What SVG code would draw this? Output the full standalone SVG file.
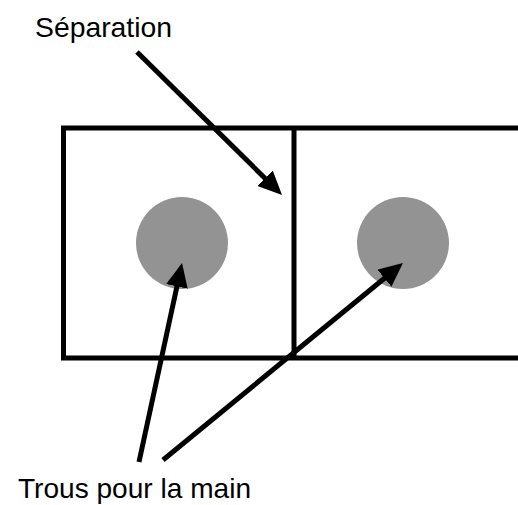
<svg xmlns="http://www.w3.org/2000/svg" width="518" height="505" viewBox="0 0 518 505">
  <style>
    .frame { fill: none; stroke: #000; stroke-width: 5; }
    .hole { fill: #939393; }
    .conn { stroke: #000; stroke-width: 5; fill: none; marker-end: url(#head); }
    .label { font-family: "Liberation Sans", Arial, sans-serif; font-size: 28px; fill: #000; }
  </style>
  <defs>
    <marker id="head" viewBox="0 0 24 22" refX="4" refY="11" markerWidth="24" markerHeight="22" markerUnits="userSpaceOnUse" orient="auto">
      <path d="M0,0 L24,11 L0,22 Z" fill="#000"/>
    </marker>
  </defs>
  <rect width="518" height="505" fill="#fff"/>
  <g id="box">
    <path class="frame" d="M522,128 H63.5 V358 H522"/>
    <line class="frame" x1="294" y1="128" x2="294" y2="358"/>
  </g>
  <g id="hole-left"><circle class="hole" cx="182" cy="243" r="46"/></g>
  <g id="hole-right"><circle class="hole" cx="403" cy="243" r="46"/></g>
  <g id="label-separation"><text class="label" x="35" y="37" textLength="137" lengthAdjust="spacingAndGlyphs">Séparation</text></g>
  <g id="label-trous"><text class="label" x="18" y="498" textLength="233" lengthAdjust="spacingAndGlyphs">Trous pour la main</text></g>
  <g id="connectors">
    <line class="conn" x1="137" y1="52" x2="267.8" y2="181"/>
    <line class="conn" x1="139" y1="462" x2="177.8" y2="282.5"/>
    <line class="conn" x1="163" y1="460" x2="387.5" y2="275.7"/>
  </g>
</svg>
